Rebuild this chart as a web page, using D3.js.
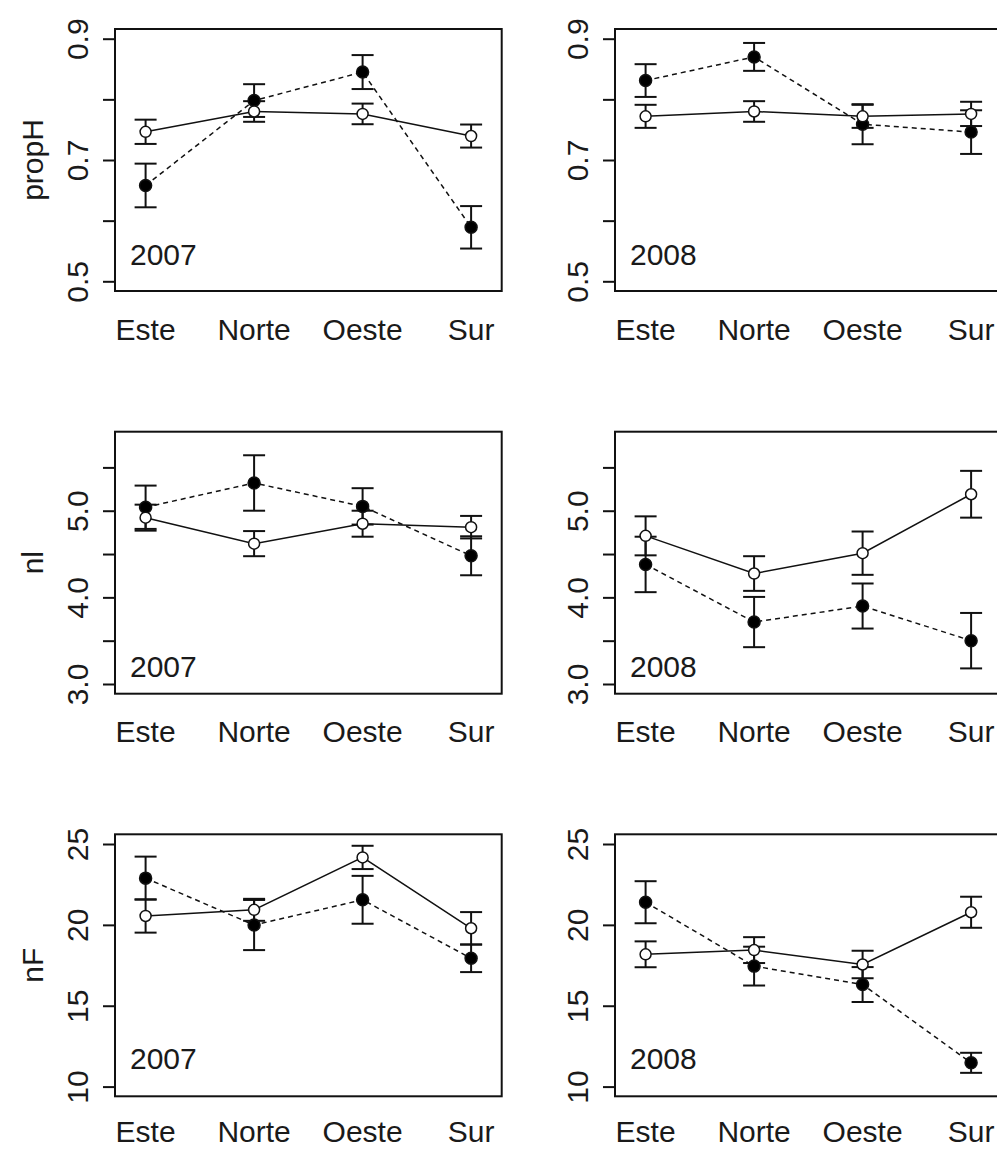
<!DOCTYPE html>
<html>
<head>
<meta charset="utf-8">
<script src="https://cdn.jsdelivr.net/npm/d3@7"></script>
<style>
  html, body { margin: 0; padding: 0; background: #fff; }
  svg { display: block; }
  text { font-family: "Liberation Sans", Arial, sans-serif; fill: #1a1a1a; }
</style>
</head>
<body>
<svg id="chart" width="997" height="1149"></svg>
<script>
// Categories
const regions = ["Este", "Norte", "Oeste", "Sur"];
const years = ["2007", "2008"];
const variables = ["propH", "nl", "nF"];

// Y limits (before the usual 4% padding) and tick marks per variable
const propHLimits = [0.5, 0.9];
const nlLimits = [3.0, 5.8];
const nFLimits = [10, 25];
const propHTicks = [0.5, 0.6, 0.7, 0.8, 0.9];
const propHTickLabels = ["0.5", "", "0.7", "", "0.9"];
const nlTicks = [3.0, 3.5, 4.0, 4.5, 5.0, 5.5];
const nlTickLabels = ["3.0", "", "4.0", "", "5.0", ""];
const nFTicks = [10, 15, 20, 25];
const nFTickLabels = ["10", "15", "20", "25"];

// Series A: filled points, dashed line.  Series B: open points, solid line.
// Means and error half-widths, one value per region.
const propH2007A = [0.658, 0.798, 0.845, 0.589];
const propH2007Aerr = [0.036, 0.027, 0.028, 0.035];
const propH2007B = [0.7465, 0.780, 0.776, 0.7395];
const propH2007Berr = [0.020, 0.017, 0.017, 0.019];

const propH2008A = [0.831, 0.870, 0.759, 0.746];
const propH2008Aerr = [0.027, 0.023, 0.033, 0.036];
const propH2008B = [0.772, 0.780, 0.772, 0.776];
const propH2008Berr = [0.019, 0.017, 0.019, 0.020];

const nl2007A = [5.04, 5.32, 5.05, 4.48];
const nl2007Aerr = [0.25, 0.32, 0.21, 0.225];
const nl2007B = [4.92, 4.62, 4.85, 4.81];
const nl2007Berr = [0.15, 0.145, 0.15, 0.13];

const nl2008A = [4.38, 3.715, 3.90, 3.50];
const nl2008Aerr = [0.32, 0.29, 0.26, 0.32];
const nl2008B = [4.71, 4.275, 4.51, 5.19];
const nl2008Berr = [0.225, 0.20, 0.25, 0.27];

const nF2007A = [22.89, 19.99, 21.55, 17.93];
const nF2007Aerr = [1.33, 1.55, 1.48, 0.85];
const nF2007B = [20.55, 20.93, 24.17, 19.79];
const nF2007Berr = [1.03, 0.68, 0.72, 1.0];

const nF2008A = [21.40, 17.45, 16.31, 11.47];
const nF2008Aerr = [1.30, 1.20, 1.08, 0.62];
const nF2008B = [18.18, 18.44, 17.55, 20.78];
const nF2008Berr = [0.80, 0.80, 0.85, 0.96];

// Lookup tables assembled from the arrays above
const limits = { propH: propHLimits, nl: nlLimits, nF: nFLimits };
const ticks = {
  propH: [propHTicks, propHTickLabels],
  nl: [nlTicks, nlTickLabels],
  nF: [nFTicks, nFTickLabels]
};
const seriesData = {
  propH: {
    "2007": { A: [propH2007A, propH2007Aerr], B: [propH2007B, propH2007Berr] },
    "2008": { A: [propH2008A, propH2008Aerr], B: [propH2008B, propH2008Berr] }
  },
  nl: {
    "2007": { A: [nl2007A, nl2007Aerr], B: [nl2007B, nl2007Berr] },
    "2008": { A: [nl2008A, nl2008Aerr], B: [nl2008B, nl2008Berr] }
  },
  nF: {
    "2007": { A: [nF2007A, nF2007Aerr], B: [nF2007B, nF2007Berr] },
    "2008": { A: [nF2008A, nF2008Aerr], B: [nF2008B, nF2008Berr] }
  }
};

// Page layout
const boxLeft = [115, 615];
const boxTop = [29, 431.7, 834.3];
const boxW = 386.7;
const boxH = 262;
const yearLabelGap = [26, 17, 27];   // year label baseline above the box bottom
const catLabelGap = [49, 48, 46];    // category label baseline below the box bottom
const fontSize = 30;

const svg = d3.select("#chart");

// padded range, like R's default axis style
function padded(lim) {
  const d = (lim[1] - lim[0]) * 0.04;
  return [lim[0] - d, lim[1] + d];
}

variables.forEach((v, row) => {
  years.forEach((yr, col) => {
    const x0 = boxLeft[col], y0 = boxTop[row];
    const g = svg.append("g").attr("transform", `translate(${x0},${y0})`);

    const x = d3.scaleLinear().domain(padded([0.85, 4.15])).range([0, boxW]);
    const y = d3.scaleLinear().domain(padded(limits[v])).range([boxH, 0]);

    // y axis with rotated labels
    const [tv, tl] = ticks[v];
    const ax = g.append("g")
      .call(d3.axisLeft(y).tickValues(tv).tickSize(12).tickFormat((d, i) => tl[i]));
    ax.select(".domain").remove();
    ax.selectAll(".tick line").attr("stroke", "#111").attr("stroke-width", 2);
    ax.selectAll(".tick text")
      .attr("transform", "rotate(-90)")
      .attr("x", 0).attr("y", -27).attr("dy", 0)
      .attr("text-anchor", "middle")
      .style("font-size", fontSize + "px")
      .style("fill", "#1a1a1a");

    // y axis title, left column only
    if (col === 0) {
      g.append("text")
        .attr("transform", `translate(${43 - x0},${boxH / 2}) rotate(-90)`)
        .attr("text-anchor", "middle")
        .style("font-size", fontSize + "px")
        .text(v);
    }

    // category labels
    g.selectAll("text.cat").data(regions).join("text")
      .attr("class", "cat")
      .attr("x", (d, i) => x(i + 1))
      .attr("y", boxH + catLabelGap[row])
      .attr("text-anchor", "middle")
      .style("font-size", fontSize + "px")
      .text(d => d);

    // year label
    g.append("text")
      .attr("x", 15).attr("y", boxH - yearLabelGap[row])
      .style("font-size", fontSize + "px")
      .text(yr);

    const groups = [
      { key: "A", dash: "5,4", fill: "#000", r: 6 },
      { key: "B", dash: null, fill: "#fff", r: 5.5 }
    ];

    const line = d3.line().x((d, i) => x(i + 1)).y(d => y(d));

    // connecting lines
    groups.forEach(s => {
      const [m] = seriesData[v][yr][s.key];
      g.append("path").datum(m)
        .attr("d", line)
        .attr("fill", "none")
        .attr("stroke", "#111")
        .attr("stroke-width", 1.5)
        .attr("stroke-dasharray", s.dash);
    });

    // error bars
    groups.forEach(s => {
      const [m, e] = seriesData[v][yr][s.key];
      const eb = g.append("g").attr("stroke", "#111").attr("stroke-width", 2);
      m.forEach((val, i) => {
        const cx = x(i + 1);
        eb.append("line").attr("x1", cx).attr("x2", cx)
          .attr("y1", y(val - e[i])).attr("y2", y(val + e[i]));
        [val - e[i], val + e[i]].forEach(c => {
          eb.append("line").attr("x1", cx - 11).attr("x2", cx + 11)
            .attr("y1", y(c)).attr("y2", y(c));
        });
      });
    });

    // points
    groups.forEach(s => {
      const [m] = seriesData[v][yr][s.key];
      g.selectAll(null).data(m).join("circle")
        .attr("cx", (d, i) => x(i + 1))
        .attr("cy", d => y(d))
        .attr("r", s.r)
        .attr("fill", s.fill)
        .attr("stroke", "#111")
        .attr("stroke-width", 1.5);
    });

    // plot box
    g.append("rect")
      .attr("x", 0).attr("y", 0)
      .attr("width", boxW).attr("height", boxH)
      .attr("fill", "none")
      .attr("stroke", "#111")
      .attr("stroke-width", 2);
  });
});
</script>
</body>
</html>
